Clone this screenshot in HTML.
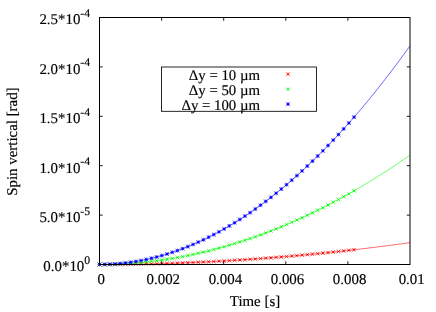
<!DOCTYPE html>
<html><head><meta charset="utf-8"><title>plot</title>
<style>
html,body{margin:0;padding:0;background:#fff;}
body{width:436px;height:312px;overflow:hidden;}
svg{display:block;}
svg{will-change:transform;}
text{font-family:"Liberation Serif",serif;fill:#000;stroke:#000;stroke-width:0.15px;text-rendering:geometricPrecision;}
</style></head><body>
<svg width="436" height="312" viewBox="0 0 436 312">
<rect x="0" y="0" width="436" height="312" fill="#ffffff"/>
<text x="90.2" y="271.30" font-size="14.9" text-anchor="end">0.0*10<tspan font-size="11.8" dy="-7.4">0</tspan></text>
<text x="90.2" y="221.90" font-size="14.9" text-anchor="end">5.0*10<tspan font-size="11.8" dy="-7.4">-5</tspan></text>
<text x="90.2" y="172.50" font-size="14.9" text-anchor="end">1.0*10<tspan font-size="11.8" dy="-7.4">-4</tspan></text>
<text x="90.2" y="123.10" font-size="14.9" text-anchor="end">1.5*10<tspan font-size="11.8" dy="-7.4">-4</tspan></text>
<text x="90.2" y="73.70" font-size="14.9" text-anchor="end">2.0*10<tspan font-size="11.8" dy="-7.4">-4</tspan></text>
<text x="90.2" y="24.30" font-size="14.9" text-anchor="end">2.5*10<tspan font-size="11.8" dy="-7.4">-4</tspan></text>
<text x="101.20" y="284.4" font-size="14.9" text-anchor="middle">0</text>
<text x="163.30" y="284.4" font-size="14.9" text-anchor="middle">0.002</text>
<text x="225.40" y="284.4" font-size="14.9" text-anchor="middle">0.004</text>
<text x="287.50" y="284.4" font-size="14.9" text-anchor="middle">0.006</text>
<text x="349.60" y="284.4" font-size="14.9" text-anchor="middle">0.008</text>
<text x="411.70" y="284.4" font-size="14.9" text-anchor="middle">0.01</text>
<text x="255" y="305.8" font-size="14.9" text-anchor="middle">Time [s]</text>
<text transform="translate(16.6 141.6) rotate(-90)" font-size="14.9" text-anchor="middle">Spin vertical [rad]</text>
<rect x="161.55" y="67.0" width="154.95" height="44.3" fill="none" stroke="#000" stroke-width="0.85"/>
<text x="260.0" y="79.6" font-size="14.8" text-anchor="end">Δy = 10 µm</text>
<text x="260.0" y="94.6" font-size="14.8" text-anchor="end">Δy = 50 µm</text>
<text x="260.0" y="109.6" font-size="14.8" text-anchor="end">Δy = 100 µm</text>
<path d="M99.50 264.50 L101.05 264.50 L102.61 264.50 L104.16 264.50 L105.71 264.49 L107.26 264.49 L108.81 264.48 L110.37 264.47 L111.92 264.46 L113.47 264.46 L115.03 264.44 L116.58 264.43 L118.13 264.42 L119.68 264.41 L121.23 264.39 L122.79 264.38 L124.34 264.36 L125.89 264.34 L127.44 264.32 L129.00 264.30 L130.55 264.28 L132.10 264.26 L133.66 264.23 L135.21 264.21 L136.76 264.18 L138.31 264.15 L139.87 264.13 L141.42 264.10 L142.97 264.07 L144.52 264.03 L146.07 264.00 L147.63 263.97 L149.18 263.93 L150.73 263.90 L152.28 263.86 L153.84 263.82 L155.39 263.78 L156.94 263.74 L158.50 263.70 L160.05 263.66 L161.60 263.61 L163.15 263.57 L164.70 263.52 L166.26 263.48 L167.81 263.43 L169.36 263.38 L170.91 263.33 L172.47 263.28 L174.02 263.23 L175.57 263.17 L177.12 263.12 L178.68 263.06 L180.23 263.00 L181.78 262.95 L183.34 262.89 L184.89 262.83 L186.44 262.77 L187.99 262.70 L189.54 262.64 L191.10 262.58 L192.65 262.51 L194.20 262.44 L195.75 262.38 L197.31 262.31 L198.86 262.24 L200.41 262.17 L201.97 262.09 L203.52 262.02 L205.07 261.95 L206.62 261.87 L208.18 261.79 L209.73 261.72 L211.28 261.64 L212.83 261.56 L214.38 261.48 L215.94 261.40 L217.49 261.31 L219.04 261.23 L220.59 261.14 L222.15 261.06 L223.70 260.97 L225.25 260.88 L226.81 260.79 L228.36 260.70 L229.91 260.61 L231.46 260.52 L233.01 260.42 L234.57 260.33 L236.12 260.23 L237.67 260.13 L239.23 260.03 L240.78 259.93 L242.33 259.83 L243.88 259.73 L245.44 259.63 L246.99 259.53 L248.54 259.42 L250.09 259.32 L251.65 259.21 L253.20 259.10 L254.75 258.99 L256.30 258.88 L257.86 258.77 L259.41 258.66 L260.96 258.54 L262.51 258.43 L264.06 258.31 L265.62 258.20 L267.17 258.08 L268.72 257.96 L270.27 257.84 L271.83 257.72 L273.38 257.60 L274.93 257.47 L276.49 257.35 L278.04 257.22 L279.59 257.10 L281.14 256.97 L282.69 256.84 L284.25 256.71 L285.80 256.58 L287.35 256.45 L288.90 256.31 L290.46 256.18 L292.01 256.05 L293.56 255.91 L295.12 255.77 L296.67 255.63 L298.22 255.49 L299.77 255.35 L301.33 255.21 L302.88 255.07 L304.43 254.93 L305.98 254.78 L307.54 254.63 L309.09 254.49 L310.64 254.34 L312.19 254.19 L313.75 254.04 L315.30 253.89 L316.85 253.74 L318.40 253.58 L319.95 253.43 L321.51 253.27 L323.06 253.12 L324.61 252.96 L326.16 252.80 L327.72 252.64 L329.27 252.48 L330.82 252.32 L332.38 252.15 L333.93 251.99 L335.48 251.82 L337.03 251.66 L338.59 251.49 L340.14 251.32 L341.69 251.15 L343.24 250.98 L344.80 250.81 L346.35 250.64 L347.90 250.46 L349.45 250.29 L351.01 250.11 L352.56 249.94 L354.11 249.76 L355.66 249.58 L357.21 249.40 L358.77 249.22 L360.32 249.04 L361.87 248.85 L363.43 248.67 L364.98 248.48 L366.53 248.30 L368.08 248.11 L369.63 247.92 L371.19 247.73 L372.74 247.54 L374.29 247.35 L375.85 247.15 L377.40 246.96 L378.95 246.76 L380.50 246.57 L382.06 246.37 L383.61 246.17 L385.16 245.97 L386.71 245.77 L388.27 245.57 L389.82 245.37 L391.37 245.16 L392.92 244.96 L394.48 244.75 L396.03 244.55 L397.58 244.34 L399.13 244.13 L400.69 243.92 L402.24 243.71 L403.79 243.50 L405.34 243.28 L406.89 243.07 L408.45 242.85 L410.00 242.64" stroke="#ff0000" stroke-width="0.6" fill="none"/>
<path d="M97.60 262.60L101.40 266.40M97.60 266.40L101.40 262.60M102.79 262.59L106.59 266.39M102.79 266.39L106.59 262.59M107.99 262.58L111.79 266.38M107.99 266.38L111.79 262.58M113.19 262.54L116.99 266.34M113.19 266.34L116.99 262.54M118.38 262.50L122.18 266.30M118.38 266.30L122.18 262.50M123.57 262.44L127.38 266.24M123.57 266.24L127.38 262.44M128.77 262.38L132.57 266.18M128.77 266.18L132.57 262.38M133.97 262.30L137.77 266.10M133.97 266.10L137.77 262.30M139.16 262.20L142.96 266.00M139.16 266.00L142.96 262.20M144.35 262.10L148.16 265.90M144.35 265.90L148.16 262.10M149.55 261.98L153.35 265.78M149.55 265.78L153.35 261.98M154.75 261.85L158.55 265.65M154.75 265.65L158.55 261.85M159.94 261.71L163.74 265.51M159.94 265.51L163.74 261.71M165.13 261.55L168.94 265.35M165.13 265.35L168.94 261.55M170.33 261.39L174.13 265.19M170.33 265.19L174.13 261.39M175.53 261.21L179.33 265.01M175.53 265.01L179.33 261.21M180.72 261.02L184.52 264.82M180.72 264.82L184.52 261.02M185.91 260.81L189.72 264.61M185.91 264.61L189.72 260.81M191.11 260.60L194.91 264.40M191.11 264.40L194.91 260.60M196.31 260.37L200.11 264.17M196.31 264.17L200.11 260.37M201.50 260.13L205.30 263.93M201.50 263.93L205.30 260.13M206.69 259.87L210.50 263.67M206.69 263.67L210.50 259.87M211.89 259.61L215.69 263.41M211.89 263.41L215.69 259.61M217.09 259.33L220.89 263.13M217.09 263.13L220.89 259.33M222.28 259.04L226.08 262.84M222.28 262.84L226.08 259.04M227.47 258.74L231.28 262.54M227.47 262.54L231.28 258.74M232.67 258.43L236.47 262.23M232.67 262.23L236.47 258.43M237.87 258.10L241.67 261.90M237.87 261.90L241.67 258.10M243.06 257.76L246.86 261.56M243.06 261.56L246.86 257.76M248.25 257.41L252.06 261.21M248.25 261.21L252.06 257.41M253.45 257.05L257.25 260.85M253.45 260.85L257.25 257.05M258.65 256.67L262.44 260.47M258.65 260.47L262.44 256.67M263.84 256.29L267.64 260.09M263.84 260.09L267.64 256.29M269.04 255.89L272.83 259.69M269.04 259.69L272.83 255.89M274.23 255.48L278.03 259.28M274.23 259.28L278.03 255.48M279.43 255.05L283.23 258.85M279.43 258.85L283.23 255.05M284.62 254.62L288.42 258.42M284.62 258.42L288.42 254.62M289.82 254.17L293.62 257.97M289.82 257.97L293.62 254.17M295.01 253.71L298.81 257.51M295.01 257.51L298.81 253.71M300.21 253.24L304.00 257.04M300.21 257.04L304.00 253.24M305.40 252.76L309.20 256.56M305.40 256.56L309.20 252.76M310.60 252.26L314.39 256.06M310.60 256.06L314.39 252.26M315.79 251.75L319.59 255.55M315.79 255.55L319.59 251.75M320.99 251.23L324.78 255.03M320.99 255.03L324.78 251.23M326.18 250.70L329.98 254.50M326.18 254.50L329.98 250.70M331.38 250.16L335.17 253.96M331.38 253.96L335.17 250.16M336.57 249.60L340.37 253.40M336.57 253.40L340.37 249.60M341.77 249.04L345.56 252.84M341.77 252.84L345.56 249.04M346.96 248.46L350.76 252.26M346.96 252.26L350.76 248.46M352.16 247.86L355.95 251.66M352.16 251.66L355.95 247.86M286.10 72.30L289.90 76.10M286.10 76.10L289.90 72.30" stroke="#ff0000" stroke-width="0.65" fill="none"/>
<path d="M98.70 263.70L100.30 265.30M98.70 265.30L100.30 263.70M103.89 263.69L105.49 265.29M103.89 265.29L105.49 263.69M109.09 263.68L110.69 265.28M109.09 265.28L110.69 263.68M114.29 263.64L115.89 265.24M114.29 265.24L115.89 263.64M119.48 263.60L121.08 265.20M119.48 265.20L121.08 263.60M124.67 263.54L126.27 265.14M124.67 265.14L126.27 263.54M129.87 263.48L131.47 265.08M129.87 265.08L131.47 263.48M135.06 263.40L136.67 265.00M135.06 265.00L136.67 263.40M140.26 263.30L141.86 264.90M140.26 264.90L141.86 263.30M145.45 263.20L147.06 264.80M145.45 264.80L147.06 263.20M150.65 263.08L152.25 264.68M150.65 264.68L152.25 263.08M155.84 262.95L157.45 264.55M155.84 264.55L157.45 262.95M161.04 262.81L162.64 264.41M161.04 264.41L162.64 262.81M166.23 262.65L167.84 264.25M166.23 264.25L167.84 262.65M171.43 262.49L173.03 264.09M171.43 264.09L173.03 262.49M176.62 262.31L178.23 263.91M176.62 263.91L178.23 262.31M181.82 262.12L183.42 263.72M181.82 263.72L183.42 262.12M187.01 261.91L188.62 263.51M187.01 263.51L188.62 261.91M192.21 261.70L193.81 263.30M192.21 263.30L193.81 261.70M197.41 261.47L199.01 263.07M197.41 263.07L199.01 261.47M202.60 261.23L204.20 262.83M202.60 262.83L204.20 261.23M207.79 260.97L209.40 262.57M207.79 262.57L209.40 260.97M212.99 260.71L214.59 262.31M212.99 262.31L214.59 260.71M218.19 260.43L219.79 262.03M218.19 262.03L219.79 260.43M223.38 260.14L224.98 261.74M223.38 261.74L224.98 260.14M228.57 259.84L230.18 261.44M228.57 261.44L230.18 259.84M233.77 259.53L235.37 261.13M233.77 261.13L235.37 259.53M238.97 259.20L240.57 260.80M238.97 260.80L240.57 259.20M244.16 258.86L245.76 260.46M244.16 260.46L245.76 258.86M249.35 258.51L250.96 260.11M249.35 260.11L250.96 258.51M254.55 258.15L256.15 259.75M254.55 259.75L256.15 258.15M259.75 257.77L261.35 259.37M259.75 259.37L261.35 257.77M264.94 257.39L266.54 258.99M264.94 258.99L266.54 257.39M270.13 256.99L271.74 258.59M270.13 258.59L271.74 256.99M275.33 256.58L276.93 258.18M275.33 258.18L276.93 256.58M280.53 256.15L282.13 257.75M280.53 257.75L282.13 256.15M285.72 255.72L287.32 257.32M285.72 257.32L287.32 255.72M290.92 255.27L292.52 256.87M290.92 256.87L292.52 255.27M296.11 254.81L297.71 256.41M296.11 256.41L297.71 254.81M301.31 254.34L302.91 255.94M301.31 255.94L302.91 254.34M306.50 253.86L308.10 255.46M306.50 255.46L308.10 253.86M311.69 253.36L313.30 254.96M311.69 254.96L313.30 253.36M316.89 252.85L318.49 254.45M316.89 254.45L318.49 252.85M322.08 252.33L323.69 253.93M322.08 253.93L323.69 252.33M327.28 251.80L328.88 253.40M327.28 253.40L328.88 251.80M332.47 251.26L334.07 252.86M332.47 252.86L334.07 251.26M337.67 250.70L339.27 252.30M337.67 252.30L339.27 250.70M342.87 250.14L344.47 251.74M342.87 251.74L344.47 250.14M348.06 249.56L349.66 251.16M348.06 251.16L349.66 249.56M353.25 248.96L354.86 250.56M353.25 250.56L354.86 248.96M287.20 73.40L288.80 75.00M287.20 75.00L288.80 73.40" stroke="#ff0000" stroke-width="1.0" fill="none"/>
<path d="M99.50 264.50 L101.05 264.50 L102.61 264.49 L104.16 264.48 L105.71 264.46 L107.26 264.43 L108.81 264.40 L110.37 264.36 L111.92 264.32 L113.47 264.28 L115.03 264.22 L116.58 264.16 L118.13 264.10 L119.68 264.03 L121.23 263.96 L122.79 263.88 L124.34 263.79 L125.89 263.70 L127.44 263.60 L129.00 263.50 L130.55 263.39 L132.10 263.28 L133.66 263.16 L135.21 263.03 L136.76 262.90 L138.31 262.77 L139.87 262.63 L141.42 262.48 L142.97 262.33 L144.52 262.17 L146.07 262.01 L147.63 261.84 L149.18 261.66 L150.73 261.48 L152.28 261.30 L153.84 261.11 L155.39 260.91 L156.94 260.71 L158.50 260.50 L160.05 260.29 L161.60 260.07 L163.15 259.85 L164.70 259.62 L166.26 259.38 L167.81 259.14 L169.36 258.90 L170.91 258.65 L172.47 258.39 L174.02 258.13 L175.57 257.86 L177.12 257.59 L178.68 257.31 L180.23 257.02 L181.78 256.73 L183.34 256.44 L184.89 256.14 L186.44 255.83 L187.99 255.52 L189.54 255.20 L191.10 254.88 L192.65 254.55 L194.20 254.22 L195.75 253.88 L197.31 253.54 L198.86 253.19 L200.41 252.83 L201.97 252.47 L203.52 252.10 L205.07 251.73 L206.62 251.35 L208.18 250.97 L209.73 250.58 L211.28 250.19 L212.83 249.79 L214.38 249.39 L215.94 248.98 L217.49 248.56 L219.04 248.14 L220.59 247.71 L222.15 247.28 L223.70 246.84 L225.25 246.40 L226.81 245.95 L228.36 245.50 L229.91 245.04 L231.46 244.58 L233.01 244.11 L234.57 243.63 L236.12 243.15 L237.67 242.66 L239.23 242.17 L240.78 241.67 L242.33 241.17 L243.88 240.66 L245.44 240.15 L246.99 239.63 L248.54 239.11 L250.09 238.58 L251.65 238.04 L253.20 237.50 L254.75 236.96 L256.30 236.40 L257.86 235.85 L259.41 235.28 L260.96 234.72 L262.51 234.14 L264.06 233.57 L265.62 232.98 L267.17 232.39 L268.72 231.80 L270.27 231.20 L271.83 230.59 L273.38 229.98 L274.93 229.36 L276.49 228.74 L278.04 228.12 L279.59 227.48 L281.14 226.84 L282.69 226.20 L284.25 225.55 L285.80 224.90 L287.35 224.24 L288.90 223.57 L290.46 222.90 L292.01 222.23 L293.56 221.55 L295.12 220.86 L296.67 220.17 L298.22 219.47 L299.77 218.77 L301.33 218.06 L302.88 217.35 L304.43 216.63 L305.98 215.90 L307.54 215.17 L309.09 214.44 L310.64 213.70 L312.19 212.95 L313.75 212.20 L315.30 211.44 L316.85 210.68 L318.40 209.92 L319.95 209.14 L321.51 208.37 L323.06 207.58 L324.61 206.79 L326.16 206.00 L327.72 205.20 L329.27 204.40 L330.82 203.58 L332.38 202.77 L333.93 201.95 L335.48 201.12 L337.03 200.29 L338.59 199.45 L340.14 198.61 L341.69 197.76 L343.24 196.91 L344.80 196.05 L346.35 195.19 L347.90 194.32 L349.45 193.45 L351.01 192.57 L352.56 191.68 L354.11 190.79 L355.66 189.89 L357.21 188.99 L358.77 188.09 L360.32 187.18 L361.87 186.26 L363.43 185.34 L364.98 184.41 L366.53 183.48 L368.08 182.54 L369.63 181.59 L371.19 180.64 L372.74 179.69 L374.29 178.73 L375.85 177.77 L377.40 176.80 L378.95 175.82 L380.50 174.84 L382.06 173.85 L383.61 172.86 L385.16 171.86 L386.71 170.86 L388.27 169.85 L389.82 168.84 L391.37 167.82 L392.92 166.80 L394.48 165.77 L396.03 164.74 L397.58 163.70 L399.13 162.65 L400.69 161.60 L402.24 160.55 L403.79 159.49 L405.34 158.42 L406.89 157.35 L408.45 156.27 L410.00 155.19" stroke="#00ff00" stroke-width="0.6" fill="none"/>
<path d="M97.60 262.60L101.40 266.40M97.60 266.40L101.40 262.60M102.79 262.57L106.59 266.37M102.79 266.37L106.59 262.57M107.99 262.48L111.79 266.28M107.99 266.28L111.79 262.48M113.19 262.32L116.99 266.12M113.19 266.12L116.99 262.32M118.38 262.10L122.18 265.90M118.38 265.90L122.18 262.10M123.57 261.82L127.38 265.62M123.57 265.62L127.38 261.82M128.77 261.48L132.57 265.28M128.77 265.28L132.57 261.48M133.97 261.08L137.77 264.88M133.97 264.88L137.77 261.08M139.16 260.61L142.96 264.41M139.16 264.41L142.96 260.61M144.35 260.09L148.16 263.89M144.35 263.89L148.16 260.09M149.55 259.50L153.35 263.30M149.55 263.30L153.35 259.50M154.75 258.85L158.55 262.65M154.75 262.65L158.55 258.85M159.94 258.14L163.74 261.94M159.94 261.94L163.74 258.14M165.13 257.36L168.94 261.16M165.13 261.16L168.94 257.36M170.33 256.53L174.13 260.33M170.33 260.33L174.13 256.53M175.53 255.63L179.33 259.43M175.53 259.43L179.33 255.63M180.72 254.68L184.52 258.48M180.72 258.48L184.52 254.68M185.91 253.66L189.72 257.46M185.91 257.46L189.72 253.66M191.11 252.58L194.91 256.38M191.11 256.38L194.91 252.58M196.31 251.43L200.11 255.23M196.31 255.23L200.11 251.43M201.50 250.23L205.30 254.03M201.50 254.03L205.30 250.23M206.69 248.97L210.50 252.77M206.69 252.77L210.50 248.97M211.89 247.64L215.69 251.44M211.89 251.44L215.69 247.64M217.09 246.25L220.89 250.05M217.09 250.05L220.89 246.25M222.28 244.81L226.08 248.61M222.28 248.61L226.08 244.81M227.47 243.30L231.28 247.10M227.47 247.10L231.28 243.30M232.67 241.73L236.47 245.53M232.67 245.53L236.47 241.73M237.87 240.10L241.67 243.90M237.87 243.90L241.67 240.10M243.06 238.41L246.86 242.21M243.06 242.21L246.86 238.41M248.25 236.66L252.06 240.46M248.25 240.46L252.06 236.66M253.45 234.84L257.25 238.64M253.45 238.64L257.25 234.84M258.65 232.97L262.44 236.77M258.65 236.77L262.44 232.97M263.84 231.04L267.64 234.84M263.84 234.84L267.64 231.04M269.04 229.04L272.83 232.84M269.04 232.84L272.83 229.04M274.23 226.99L278.03 230.79M274.23 230.79L278.03 226.99M279.43 224.87L283.23 228.67M279.43 228.67L283.23 224.87M284.62 222.69L288.42 226.49M284.62 226.49L288.42 222.69M289.82 220.46L293.62 224.26M289.82 224.26L293.62 220.46M295.01 218.16L298.81 221.96M295.01 221.96L298.81 218.16M300.21 215.80L304.00 219.60M300.21 219.60L304.00 215.80M305.40 213.38L309.20 217.18M305.40 217.18L309.20 213.38M310.60 210.91L314.39 214.71M310.60 214.71L314.39 210.91M315.79 208.37L319.59 212.17M315.79 212.17L319.59 208.37M320.99 205.77L324.78 209.57M320.99 209.57L324.78 205.77M326.18 203.11L329.98 206.91M326.18 206.91L329.98 203.11M331.38 200.39L335.17 204.19M331.38 204.19L335.17 200.39M336.57 197.62L340.37 201.42M336.57 201.42L340.37 197.62M341.77 194.78L345.56 198.58M341.77 198.58L345.56 194.78M346.96 191.88L350.76 195.68M346.96 195.68L350.76 191.88M352.16 188.92L355.95 192.72M352.16 192.72L355.95 188.92M286.10 87.30L289.90 91.10M286.10 91.10L289.90 87.30" stroke="#00ff00" stroke-width="0.65" fill="none"/>
<path d="M98.70 263.70L100.30 265.30M98.70 265.30L100.30 263.70M103.89 263.67L105.49 265.27M103.89 265.27L105.49 263.67M109.09 263.58L110.69 265.18M109.09 265.18L110.69 263.58M114.29 263.42L115.89 265.02M114.29 265.02L115.89 263.42M119.48 263.20L121.08 264.80M119.48 264.80L121.08 263.20M124.67 262.92L126.27 264.52M124.67 264.52L126.27 262.92M129.87 262.58L131.47 264.18M129.87 264.18L131.47 262.58M135.06 262.18L136.67 263.78M135.06 263.78L136.67 262.18M140.26 261.71L141.86 263.31M140.26 263.31L141.86 261.71M145.45 261.19L147.06 262.79M145.45 262.79L147.06 261.19M150.65 260.60L152.25 262.20M150.65 262.20L152.25 260.60M155.84 259.95L157.45 261.55M155.84 261.55L157.45 259.95M161.04 259.24L162.64 260.84M161.04 260.84L162.64 259.24M166.23 258.46L167.84 260.06M166.23 260.06L167.84 258.46M171.43 257.63L173.03 259.23M171.43 259.23L173.03 257.63M176.62 256.73L178.23 258.33M176.62 258.33L178.23 256.73M181.82 255.78L183.42 257.38M181.82 257.38L183.42 255.78M187.01 254.76L188.62 256.36M187.01 256.36L188.62 254.76M192.21 253.68L193.81 255.28M192.21 255.28L193.81 253.68M197.41 252.53L199.01 254.13M197.41 254.13L199.01 252.53M202.60 251.33L204.20 252.93M202.60 252.93L204.20 251.33M207.79 250.07L209.40 251.67M207.79 251.67L209.40 250.07M212.99 248.74L214.59 250.34M212.99 250.34L214.59 248.74M218.19 247.35L219.79 248.95M218.19 248.95L219.79 247.35M223.38 245.91L224.98 247.51M223.38 247.51L224.98 245.91M228.57 244.40L230.18 246.00M228.57 246.00L230.18 244.40M233.77 242.83L235.37 244.43M233.77 244.43L235.37 242.83M238.97 241.20L240.57 242.80M238.97 242.80L240.57 241.20M244.16 239.51L245.76 241.11M244.16 241.11L245.76 239.51M249.35 237.76L250.96 239.36M249.35 239.36L250.96 237.76M254.55 235.94L256.15 237.54M254.55 237.54L256.15 235.94M259.75 234.07L261.35 235.67M259.75 235.67L261.35 234.07M264.94 232.14L266.54 233.74M264.94 233.74L266.54 232.14M270.13 230.14L271.74 231.74M270.13 231.74L271.74 230.14M275.33 228.09L276.93 229.69M275.33 229.69L276.93 228.09M280.53 225.97L282.13 227.57M280.53 227.57L282.13 225.97M285.72 223.79L287.32 225.39M285.72 225.39L287.32 223.79M290.92 221.56L292.52 223.16M290.92 223.16L292.52 221.56M296.11 219.26L297.71 220.86M296.11 220.86L297.71 219.26M301.31 216.90L302.91 218.50M301.31 218.50L302.91 216.90M306.50 214.48L308.10 216.08M306.50 216.08L308.10 214.48M311.69 212.01L313.30 213.61M311.69 213.61L313.30 212.01M316.89 209.47L318.49 211.07M316.89 211.07L318.49 209.47M322.08 206.87L323.69 208.47M322.08 208.47L323.69 206.87M327.28 204.21L328.88 205.81M327.28 205.81L328.88 204.21M332.47 201.49L334.07 203.09M332.47 203.09L334.07 201.49M337.67 198.72L339.27 200.32M337.67 200.32L339.27 198.72M342.87 195.88L344.47 197.48M342.87 197.48L344.47 195.88M348.06 192.98L349.66 194.58M348.06 194.58L349.66 192.98M353.25 190.02L354.86 191.62M353.25 191.62L354.86 190.02M287.20 88.40L288.80 90.00M287.20 90.00L288.80 88.40" stroke="#00ff00" stroke-width="1.0" fill="none"/>
<path d="M99.50 264.50 L101.05 264.49 L102.61 264.48 L104.16 264.45 L105.71 264.41 L107.26 264.36 L108.81 264.30 L110.37 264.23 L111.92 264.14 L113.47 264.05 L115.03 263.95 L116.58 263.83 L118.13 263.70 L119.68 263.56 L121.23 263.41 L122.79 263.25 L124.34 263.08 L125.89 262.90 L127.44 262.70 L129.00 262.50 L130.55 262.28 L132.10 262.06 L133.66 261.82 L135.21 261.57 L136.76 261.31 L138.31 261.04 L139.87 260.75 L141.42 260.46 L142.97 260.16 L144.52 259.84 L146.07 259.51 L147.63 259.18 L149.18 258.83 L150.73 258.47 L152.28 258.10 L153.84 257.72 L155.39 257.32 L156.94 256.92 L158.50 256.51 L160.05 256.08 L161.60 255.64 L163.15 255.20 L164.70 254.74 L166.26 254.27 L167.81 253.79 L169.36 253.30 L170.91 252.79 L172.47 252.28 L174.02 251.76 L175.57 251.22 L177.12 250.67 L178.68 250.12 L180.23 249.55 L181.78 248.97 L183.34 248.38 L184.89 247.78 L186.44 247.16 L187.99 246.54 L189.54 245.91 L191.10 245.26 L192.65 244.60 L194.20 243.94 L195.75 243.26 L197.31 242.57 L198.86 241.87 L200.41 241.16 L201.97 240.44 L203.52 239.71 L205.07 238.96 L206.62 238.21 L208.18 237.44 L209.73 236.67 L211.28 235.88 L212.83 235.08 L214.38 234.27 L215.94 233.45 L217.49 232.62 L219.04 231.78 L220.59 230.93 L222.15 230.06 L223.70 229.19 L225.25 228.30 L226.81 227.40 L228.36 226.50 L229.91 225.58 L231.46 224.65 L233.01 223.71 L234.57 222.76 L236.12 221.80 L237.67 220.83 L239.23 219.84 L240.78 218.85 L242.33 217.84 L243.88 216.83 L245.44 215.80 L246.99 214.76 L248.54 213.71 L250.09 212.65 L251.65 211.58 L253.20 210.50 L254.75 209.41 L256.30 208.31 L257.86 207.19 L259.41 206.07 L260.96 204.93 L262.51 203.79 L264.06 202.63 L265.62 201.46 L267.17 200.28 L268.72 199.09 L270.27 197.89 L271.83 196.68 L273.38 195.46 L274.93 194.23 L276.49 192.98 L278.04 191.73 L279.59 190.47 L281.14 189.19 L282.69 187.90 L284.25 186.60 L285.80 185.30 L287.35 183.98 L288.90 182.65 L290.46 181.31 L292.01 179.96 L293.56 178.59 L295.12 177.22 L296.67 175.84 L298.22 174.44 L299.77 173.04 L301.33 171.62 L302.88 170.19 L304.43 168.75 L305.98 167.31 L307.54 165.85 L309.09 164.38 L310.64 162.90 L312.19 161.40 L313.75 159.90 L315.30 158.39 L316.85 156.87 L318.40 155.33 L319.95 153.79 L321.51 152.23 L323.06 150.66 L324.61 149.09 L326.16 147.50 L327.72 145.90 L329.27 144.29 L330.82 142.67 L332.38 141.04 L333.93 139.40 L335.48 137.74 L337.03 136.08 L338.59 134.41 L340.14 132.72 L341.69 131.03 L343.24 129.32 L344.80 127.61 L346.35 125.88 L347.90 124.14 L349.45 122.39 L351.01 120.63 L352.56 118.86 L354.11 117.08 L355.66 115.29 L357.21 113.49 L358.77 111.68 L360.32 109.85 L361.87 108.02 L363.43 106.17 L364.98 104.32 L366.53 102.45 L368.08 100.57 L369.63 98.69 L371.19 96.79 L372.74 94.88 L374.29 92.96 L375.85 91.03 L377.40 89.09 L378.95 87.14 L380.50 85.18 L382.06 83.21 L383.61 81.22 L385.16 79.23 L386.71 77.22 L388.27 75.21 L389.82 73.18 L391.37 71.15 L392.92 69.10 L394.48 67.04 L396.03 64.97 L397.58 62.90 L399.13 60.81 L400.69 58.71 L402.24 56.60 L403.79 54.48 L405.34 52.34 L406.89 50.20 L408.45 48.05 L410.00 45.89" stroke="#0000ff" stroke-width="0.6" fill="none"/>
<path d="M97.60 262.60L101.40 266.40M97.60 266.40L101.40 262.60M97.60 264.50H101.40M99.50 262.60V266.40M102.79 262.54L106.59 266.34M102.79 266.34L106.59 262.54M102.79 264.44H106.59M104.69 262.54V266.34M107.99 262.35L111.79 266.15M107.99 266.15L111.79 262.35M107.99 264.25H111.79M109.89 262.35V266.15M113.19 262.04L116.99 265.84M113.19 265.84L116.99 262.04M113.19 263.94H116.99M115.09 262.04V265.84M118.38 261.61L122.18 265.41M118.38 265.41L122.18 261.61M118.38 263.51H122.18M120.28 261.61V265.41M123.57 261.05L127.38 264.85M123.57 264.85L127.38 261.05M123.57 262.95H127.38M125.47 261.05V264.85M128.77 260.37L132.57 264.17M128.77 264.17L132.57 260.37M128.77 262.27H132.57M130.67 260.37V264.17M133.97 259.56L137.77 263.36M133.97 263.36L137.77 259.56M133.97 261.46H137.77M135.87 259.56V263.36M139.16 258.63L142.96 262.43M139.16 262.43L142.96 258.63M139.16 260.53H142.96M141.06 258.63V262.43M144.35 257.58L148.16 261.38M144.35 261.38L148.16 257.58M144.35 259.48H148.16M146.25 257.58V261.38M149.55 256.40L153.35 260.20M149.55 260.20L153.35 256.40M149.55 258.30H153.35M151.45 256.40V260.20M154.75 255.10L158.55 258.90M154.75 258.90L158.55 255.10M154.75 257.00H158.55M156.65 255.10V258.90M159.94 253.68L163.74 257.48M159.94 257.48L163.74 253.68M159.94 255.58H163.74M161.84 253.68V257.48M165.13 252.13L168.94 255.93M165.13 255.93L168.94 252.13M165.13 254.03H168.94M167.03 252.13V255.93M170.33 250.46L174.13 254.26M170.33 254.26L174.13 250.46M170.33 252.36H174.13M172.23 250.46V254.26M175.53 248.67L179.33 252.47M175.53 252.47L179.33 248.67M175.53 250.57H179.33M177.43 248.67V252.47M180.72 246.75L184.52 250.55M180.72 250.55L184.52 246.75M180.72 248.65H184.52M182.62 246.75V250.55M185.91 244.71L189.72 248.51M185.91 248.51L189.72 244.71M185.91 246.61H189.72M187.81 244.71V248.51M191.11 242.55L194.91 246.35M191.11 246.35L194.91 242.55M191.11 244.45H194.91M193.01 242.55V246.35M196.31 240.27L200.11 244.07M196.31 244.07L200.11 240.27M196.31 242.17H200.11M198.21 240.27V244.07M201.50 237.86L205.30 241.66M201.50 241.66L205.30 237.86M201.50 239.76H205.30M203.40 237.86V241.66M206.69 235.33L210.50 239.13M206.69 239.13L210.50 235.33M206.69 237.23H210.50M208.59 235.33V239.13M211.89 232.68L215.69 236.48M211.89 236.48L215.69 232.68M211.89 234.58H215.69M213.79 232.68V236.48M217.09 229.91L220.89 233.71M217.09 233.71L220.89 229.91M217.09 231.81H220.89M218.99 229.91V233.71M222.28 227.01L226.08 230.81M222.28 230.81L226.08 227.01M222.28 228.91H226.08M224.18 227.01V230.81M227.47 224.00L231.28 227.80M227.47 227.80L231.28 224.00M227.47 225.90H231.28M229.38 224.00V227.80M232.67 220.86L236.47 224.66M232.67 224.66L236.47 220.86M232.67 222.76H236.47M234.57 220.86V224.66M237.87 217.60L241.67 221.40M237.87 221.40L241.67 217.60M237.87 219.50H241.67M239.77 217.60V221.40M243.06 214.22L246.86 218.02M243.06 218.02L246.86 214.22M243.06 216.12H246.86M244.96 214.22V218.02M248.25 210.71L252.06 214.51M248.25 214.51L252.06 210.71M248.25 212.61H252.06M250.16 210.71V214.51M253.45 207.09L257.25 210.89M253.45 210.89L257.25 207.09M253.45 208.99H257.25M255.35 207.09V210.89M258.65 203.34L262.44 207.14M258.65 207.14L262.44 203.34M258.65 205.24H262.44M260.55 203.34V207.14M263.84 199.47L267.64 203.27M263.84 203.27L267.64 199.47M263.84 201.37H267.64M265.74 199.47V203.27M269.04 195.48L272.83 199.28M269.04 199.28L272.83 195.48M269.04 197.38H272.83M270.94 195.48V199.28M274.23 191.37L278.03 195.17M274.23 195.17L278.03 191.37M274.23 193.27H278.03M276.13 191.37V195.17M279.43 187.14L283.23 190.94M279.43 190.94L283.23 187.14M279.43 189.04H283.23M281.33 187.14V190.94M284.62 182.79L288.42 186.59M284.62 186.59L288.42 182.79M284.62 184.69H288.42M286.52 182.79V186.59M289.82 178.31L293.62 182.11M289.82 182.11L293.62 178.31M289.82 180.21H293.62M291.72 178.31V182.11M295.01 173.72L298.81 177.52M295.01 177.52L298.81 173.72M295.01 175.62H298.81M296.91 173.72V177.52M300.21 169.00L304.00 172.80M300.21 172.80L304.00 169.00M300.21 170.90H304.00M302.11 169.00V172.80M305.40 164.17L309.20 167.97M305.40 167.97L309.20 164.17M305.40 166.07H309.20M307.30 164.17V167.97M310.60 159.21L314.39 163.01M310.60 163.01L314.39 159.21M310.60 161.11H314.39M312.50 159.21V163.01M315.79 154.14L319.59 157.94M315.79 157.94L319.59 154.14M315.79 156.04H319.59M317.69 154.14V157.94M320.99 148.94L324.78 152.74M320.99 152.74L324.78 148.94M320.99 150.84H324.78M322.88 148.94V152.74M326.18 143.62L329.98 147.42M326.18 147.42L329.98 143.62M326.18 145.52H329.98M328.08 143.62V147.42M331.38 138.19L335.17 141.99M331.38 141.99L335.17 138.19M331.38 140.09H335.17M333.27 138.19V141.99M336.57 132.63L340.37 136.43M336.57 136.43L340.37 132.63M336.57 134.53H340.37M338.47 132.63V136.43M341.77 126.96L345.56 130.76M341.77 130.76L345.56 126.96M341.77 128.86H345.56M343.67 126.96V130.76M346.96 121.16L350.76 124.96M346.96 124.96L350.76 121.16M346.96 123.06H350.76M348.86 121.16V124.96M352.16 115.24L355.95 119.04M352.16 119.04L355.95 115.24M352.16 117.14H355.95M354.06 115.24V119.04M286.10 102.30L289.90 106.10M286.10 106.10L289.90 102.30M286.10 104.20H289.90M288.00 102.30V106.10" stroke="#0000ff" stroke-width="0.65" fill="none"/>
<path d="M98.70 263.70L100.30 265.30M98.70 265.30L100.30 263.70M98.70 264.50H100.30M99.50 263.70V265.30M103.89 263.64L105.49 265.24M103.89 265.24L105.49 263.64M103.89 264.44H105.49M104.69 263.64V265.24M109.09 263.45L110.69 265.05M109.09 265.05L110.69 263.45M109.09 264.25H110.69M109.89 263.45V265.05M114.29 263.14L115.89 264.74M114.29 264.74L115.89 263.14M114.29 263.94H115.89M115.09 263.14V264.74M119.48 262.71L121.08 264.31M119.48 264.31L121.08 262.71M119.48 263.51H121.08M120.28 262.71V264.31M124.67 262.15L126.27 263.75M124.67 263.75L126.27 262.15M124.67 262.95H126.27M125.47 262.15V263.75M129.87 261.47L131.47 263.07M129.87 263.07L131.47 261.47M129.87 262.27H131.47M130.67 261.47V263.07M135.06 260.66L136.67 262.26M135.06 262.26L136.67 260.66M135.06 261.46H136.67M135.87 260.66V262.26M140.26 259.73L141.86 261.33M140.26 261.33L141.86 259.73M140.26 260.53H141.86M141.06 259.73V261.33M145.45 258.68L147.06 260.28M145.45 260.28L147.06 258.68M145.45 259.48H147.06M146.25 258.68V260.28M150.65 257.50L152.25 259.10M150.65 259.10L152.25 257.50M150.65 258.30H152.25M151.45 257.50V259.10M155.84 256.20L157.45 257.80M155.84 257.80L157.45 256.20M155.84 257.00H157.45M156.65 256.20V257.80M161.04 254.78L162.64 256.38M161.04 256.38L162.64 254.78M161.04 255.58H162.64M161.84 254.78V256.38M166.23 253.23L167.84 254.83M166.23 254.83L167.84 253.23M166.23 254.03H167.84M167.03 253.23V254.83M171.43 251.56L173.03 253.16M171.43 253.16L173.03 251.56M171.43 252.36H173.03M172.23 251.56V253.16M176.62 249.77L178.23 251.37M176.62 251.37L178.23 249.77M176.62 250.57H178.23M177.43 249.77V251.37M181.82 247.85L183.42 249.45M181.82 249.45L183.42 247.85M181.82 248.65H183.42M182.62 247.85V249.45M187.01 245.81L188.62 247.41M187.01 247.41L188.62 245.81M187.01 246.61H188.62M187.81 245.81V247.41M192.21 243.65L193.81 245.25M192.21 245.25L193.81 243.65M192.21 244.45H193.81M193.01 243.65V245.25M197.41 241.37L199.01 242.97M197.41 242.97L199.01 241.37M197.41 242.17H199.01M198.21 241.37V242.97M202.60 238.96L204.20 240.56M202.60 240.56L204.20 238.96M202.60 239.76H204.20M203.40 238.96V240.56M207.79 236.43L209.40 238.03M207.79 238.03L209.40 236.43M207.79 237.23H209.40M208.59 236.43V238.03M212.99 233.78L214.59 235.38M212.99 235.38L214.59 233.78M212.99 234.58H214.59M213.79 233.78V235.38M218.19 231.01L219.79 232.61M218.19 232.61L219.79 231.01M218.19 231.81H219.79M218.99 231.01V232.61M223.38 228.11L224.98 229.71M223.38 229.71L224.98 228.11M223.38 228.91H224.98M224.18 228.11V229.71M228.57 225.10L230.18 226.70M228.57 226.70L230.18 225.10M228.57 225.90H230.18M229.38 225.10V226.70M233.77 221.96L235.37 223.56M233.77 223.56L235.37 221.96M233.77 222.76H235.37M234.57 221.96V223.56M238.97 218.70L240.57 220.30M238.97 220.30L240.57 218.70M238.97 219.50H240.57M239.77 218.70V220.30M244.16 215.32L245.76 216.92M244.16 216.92L245.76 215.32M244.16 216.12H245.76M244.96 215.32V216.92M249.35 211.81L250.96 213.41M249.35 213.41L250.96 211.81M249.35 212.61H250.96M250.16 211.81V213.41M254.55 208.19L256.15 209.79M254.55 209.79L256.15 208.19M254.55 208.99H256.15M255.35 208.19V209.79M259.75 204.44L261.35 206.04M259.75 206.04L261.35 204.44M259.75 205.24H261.35M260.55 204.44V206.04M264.94 200.57L266.54 202.17M264.94 202.17L266.54 200.57M264.94 201.37H266.54M265.74 200.57V202.17M270.13 196.58L271.74 198.18M270.13 198.18L271.74 196.58M270.13 197.38H271.74M270.94 196.58V198.18M275.33 192.47L276.93 194.07M275.33 194.07L276.93 192.47M275.33 193.27H276.93M276.13 192.47V194.07M280.53 188.24L282.13 189.84M280.53 189.84L282.13 188.24M280.53 189.04H282.13M281.33 188.24V189.84M285.72 183.89L287.32 185.49M285.72 185.49L287.32 183.89M285.72 184.69H287.32M286.52 183.89V185.49M290.92 179.41L292.52 181.01M290.92 181.01L292.52 179.41M290.92 180.21H292.52M291.72 179.41V181.01M296.11 174.82L297.71 176.42M296.11 176.42L297.71 174.82M296.11 175.62H297.71M296.91 174.82V176.42M301.31 170.10L302.91 171.70M301.31 171.70L302.91 170.10M301.31 170.90H302.91M302.11 170.10V171.70M306.50 165.27L308.10 166.87M306.50 166.87L308.10 165.27M306.50 166.07H308.10M307.30 165.27V166.87M311.69 160.31L313.30 161.91M311.69 161.91L313.30 160.31M311.69 161.11H313.30M312.50 160.31V161.91M316.89 155.24L318.49 156.84M316.89 156.84L318.49 155.24M316.89 156.04H318.49M317.69 155.24V156.84M322.08 150.04L323.69 151.64M322.08 151.64L323.69 150.04M322.08 150.84H323.69M322.88 150.04V151.64M327.28 144.72L328.88 146.32M327.28 146.32L328.88 144.72M327.28 145.52H328.88M328.08 144.72V146.32M332.47 139.29L334.07 140.89M332.47 140.89L334.07 139.29M332.47 140.09H334.07M333.27 139.29V140.89M337.67 133.73L339.27 135.33M337.67 135.33L339.27 133.73M337.67 134.53H339.27M338.47 133.73V135.33M342.87 128.06L344.47 129.66M342.87 129.66L344.47 128.06M342.87 128.86H344.47M343.67 128.06V129.66M348.06 122.26L349.66 123.86M348.06 123.86L349.66 122.26M348.06 123.06H349.66M348.86 122.26V123.86M353.25 116.34L354.86 117.94M353.25 117.94L354.86 116.34M353.25 117.14H354.86M354.06 116.34V117.94M287.20 103.40L288.80 105.00M287.20 105.00L288.80 103.40M287.20 104.20H288.80M288.00 103.40V105.00" stroke="#0000ff" stroke-width="1.0" fill="none"/>
<path d="M99.5 215.10h3.2M410.0 215.10h-3.2M99.5 165.70h3.2M410.0 165.70h-3.2M99.5 116.30h3.2M410.0 116.30h-3.2M99.5 66.90h3.2M410.0 66.90h-3.2M161.60 264.5v-3.2M161.60 17.5v3.2M223.70 264.5v-3.2M223.70 17.5v3.2M285.80 264.5v-3.2M285.80 17.5v3.2M347.90 264.5v-3.2M347.90 17.5v3.2" stroke="#000" stroke-width="0.9" fill="none"/>
<rect x="99.5" y="17.5" width="310.5" height="247.0" fill="none" stroke="#000" stroke-width="1"/>
</svg>
</body></html>
